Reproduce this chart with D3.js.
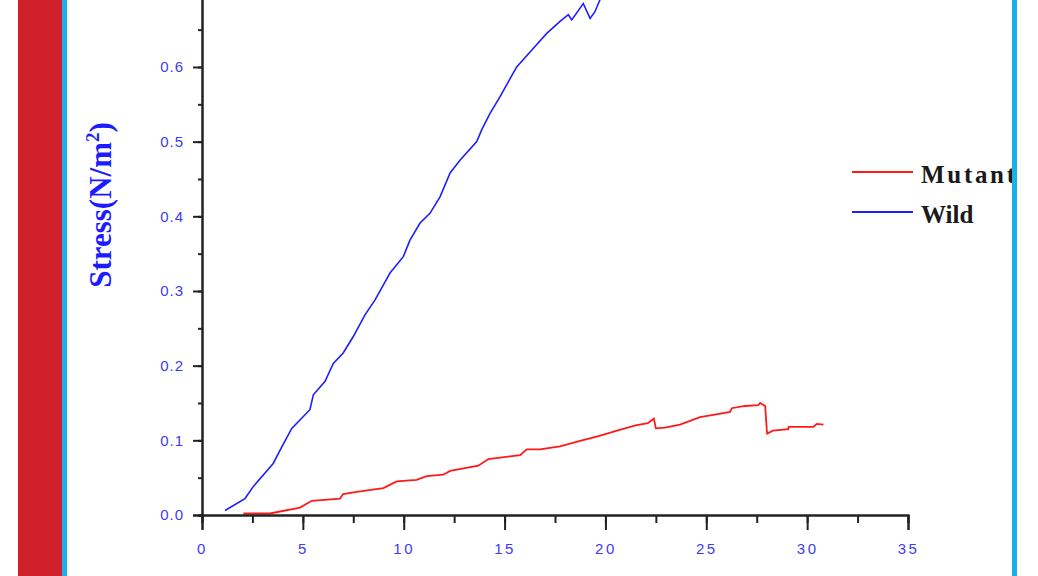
<!DOCTYPE html>
<html><head><meta charset="utf-8">
<script src="https://cdn.jsdelivr.net/npm/d3@7"></script>
<style>html,body{margin:0;padding:0;background:#fff;overflow:hidden}</style>
</head><body>
<svg id="c" width="1038" height="576"></svg>
<script>
const xTicks = [0,5,10,15,20,25,30,35];
const yTicks = [0,0.1,0.2,0.3,0.4,0.5,0.6,0.7];
const seriesNames = ["Mutant","Wild"];
const wildX = [1.14,2.13,2.54,3.53,3.95,4.45,5.35,5.52,6.10,6.51,7.0,7.5,8.08,8.58,9.07,9.32,9.98,10.31,10.81,11.3,11.8,12.3,12.79,13.62,13.87,14.28,14.77,15.6,16.43,17.09,17.75,18.16,18.33,18.9,19.24,19.48,19.73,20.2];
const wildY = [0.006,0.022,0.038,0.069,0.091,0.116,0.141,0.161,0.179,0.203,0.217,0.239,0.268,0.288,0.312,0.324,0.346,0.368,0.391,0.404,0.426,0.458,0.475,0.500,0.516,0.538,0.560,0.600,0.625,0.645,0.661,0.670,0.663,0.685,0.665,0.674,0.690,0.72];
const mutantX = [2.05,3.37,4.86,5.44,6.84,7.0,7.67,8.99,9.65,10.64,11.14,11.96,12.3,13.7,14.2,15.77,16.1,16.76,17.75,18.7,19.7,20.7,21.5,22.1,22.4,22.5,22.95,23.7,24.69,25.35,26.18,26.26,26.92,27.58,27.67,27.92,28.0,28.02,28.3,29.07,29.08,30.31,30.48,30.81];
const mutantY = [0.002,0.002,0.010,0.019,0.022,0.028,0.031,0.036,0.045,0.047,0.052,0.054,0.059,0.066,0.075,0.080,0.088,0.088,0.092,0.099,0.106,0.114,0.120,0.123,0.129,0.116,0.117,0.121,0.131,0.134,0.138,0.143,0.146,0.147,0.150,0.146,0.114,0.109,0.113,0.115,0.118,0.118,0.122,0.121];

const svg = d3.select("#c");
const x = d3.scaleLinear().domain([0,35]).range([202,908]);
const y = d3.scaleLinear().domain([0,0.8]).range([515,515-0.8*746.7]);

svg.append("rect").attr("x",18).attr("y",0).attr("width",44).attr("height",576).attr("fill","#d0212b");

const g = svg.append("g");
const line = d3.line().x(d=>x(d[0])).y(d=>y(d[1]));
g.append("path").datum(wildX.map((v,i)=>[v,wildY[i]])).attr("d",line)
  .attr("fill","none").attr("stroke","#1e1eff").attr("stroke-width",1.6);
g.append("path").datum(mutantX.map((v,i)=>[v,mutantY[i]])).attr("d",line)
  .attr("fill","none").attr("stroke","#ff1a1a").attr("stroke-width",1.8);

const axisColor = "#222";
const xa = g.append("g").attr("transform","translate(0,515)")
  .call(d3.axisBottom(x).tickValues(d3.range(0,35.01,2.5)).tickSize(8).tickFormat(""));
const xa2 = g.append("g").attr("transform","translate(0,515)")
  .call(d3.axisBottom(x).tickValues(xTicks).tickSize(15).tickFormat(d=>d3.format("d")(d)));
const ya = g.append("g").attr("transform","translate(202,0)")
  .call(d3.axisLeft(y).tickValues(d3.range(0,0.801,0.05)).tickSize(4).tickFormat(""));
const ya2 = g.append("g").attr("transform","translate(202,0)")
  .call(d3.axisLeft(y).tickValues(yTicks).tickSize(9).tickFormat(d3.format(".1f")));
[xa,xa2,ya,ya2].forEach(a=>{
  a.selectAll("path").attr("stroke",axisColor).attr("stroke-width",2);
  a.selectAll("line").attr("stroke",axisColor).attr("stroke-width",2);
});
xa2.selectAll("text").attr("fill","#3c3cf2").attr("font-family","Liberation Sans, Arial, sans-serif")
  .attr("font-size",15).attr("letter-spacing","2.5px").attr("dy","1.4em");
ya2.selectAll("text").attr("fill","#3c3cf2").attr("font-family","Liberation Sans, Arial, sans-serif")
  .attr("font-size",15).attr("letter-spacing","1px").attr("x",-18);

svg.append("text").attr("transform","translate(111,205) rotate(-90)")
  .attr("text-anchor","middle").attr("font-family","Liberation Serif, Times New Roman, serif")
  .attr("font-weight","bold").attr("font-size",31).attr("fill","#1c1cff")
  .html('Stress(N/m<tspan dy="-12" font-size="19">2</tspan><tspan dy="12">)</tspan>');
svg.append("text").attr("x",545).attr("y",595).attr("text-anchor","middle")
  .attr("font-family","Liberation Serif, Times New Roman, serif").attr("font-weight","bold")
  .attr("font-size",26).attr("fill","#1c1cff").text("Strain(%)");

const legColors = ["#ff1a1a","#1e1eff"];
const leg = svg.append("g");
seriesNames.forEach((n,i)=>{
  const ly = 172 + i*40;
  leg.append("line").attr("x1",852).attr("x2",913).attr("y1",ly).attr("y2",ly)
    .attr("stroke",legColors[i]).attr("stroke-width",2);
  const t = leg.append("text").attr("x",921).attr("y",ly+11)
    .attr("font-family","Liberation Serif, Times New Roman, serif").attr("font-weight","bold")
    .attr("font-size",25).attr("fill","#1a1a1a");
  if (i===0) t.attr("textLength",94).attr("lengthAdjust","spacing");
  t.text(n);
});

svg.append("rect").attr("x",62).attr("y",0).attr("width",5).attr("height",576).attr("fill","#1ab0e8");
svg.append("rect").attr("x",1012).attr("y",0).attr("width",5).attr("height",576).attr("fill","#1ab0e8");
svg.append("rect").attr("x",1017).attr("y",0).attr("width",21).attr("height",576).attr("fill","#fff");
</script>
</body></html>
